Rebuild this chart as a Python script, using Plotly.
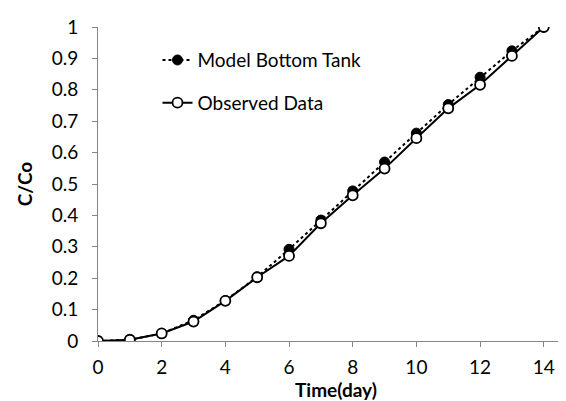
import plotly.graph_objects as go

days = [0, 1, 2, 3, 4, 5, 6, 7, 8, 9, 10, 11, 12, 13, 14]
model_bottom = [0, 0.004, 0.024, 0.066, 0.129, 0.204, 0.292, 0.385, 0.478, 0.570, 0.662, 0.753, 0.840, 0.924, 1.0]
observed = [0, 0.004, 0.024, 0.062, 0.128, 0.203, 0.271, 0.375, 0.464, 0.549, 0.646, 0.741, 0.816, 0.908, 1.0]

x_ticks = [0, 2, 4, 6, 8, 10, 12, 14]
y_ticks = [0, 0.1, 0.2, 0.3, 0.4, 0.5, 0.6, 0.7, 0.8, 0.9, 1]
y_labels = ["0", "0.1", "0.2", "0.3", "0.4", "0.5", "0.6", "0.7", "0.8", "0.9", "1"]

font = "Lato"
axis_grey = "#868686"

fig = go.Figure()

fig.add_trace(go.Scatter(
    x=days, y=model_bottom, name="Model Bottom Tank", mode="lines+markers",
    legendgroup="model",
    line=dict(color="black", width=2, dash="dot"),
    marker=dict(symbol="circle", size=10, color="black", line=dict(color="black", width=1)),
))

fig.add_trace(go.Scatter(
    x=days, y=observed, name="Observed Data", mode="lines+markers",
    legendgroup="obs",
    line=dict(color="black", width=2),
    marker=dict(symbol="circle", size=10, color="white", line=dict(color="black", width=1.8)),
))

fig.update_layout(
    width=566, height=401,
    margin=dict(l=90, r=0, t=19, b=68),
    plot_bgcolor="white", paper_bgcolor="white",
    font=dict(family=font, size=19, color="black"),
    legend=dict(x=0.125, y=0.955, xanchor="left", yanchor="top",
                font=dict(family=font, size=19), tracegroupgap=15,
                bgcolor="rgba(0,0,0,0)"),
    showlegend=True,
)

fig.update_xaxes(
    range=[0, 14.95], tickvals=x_ticks, showgrid=False, zeroline=False,
    showline=True, linecolor=axis_grey, linewidth=1,
    ticks="outside", ticklen=5, tickcolor=axis_grey, ticklabelstandoff=4,
    title=dict(text="<b>Time(day)</b>", font=dict(family=font, size=19), standoff=3),
)
fig.update_yaxes(
    range=[0, 1], tickvals=y_ticks, ticktext=y_labels, showgrid=False, zeroline=False,
    showline=True, linecolor=axis_grey, linewidth=1,
    ticks="outside", ticklen=5, tickcolor=axis_grey, ticklabelstandoff=10,
    title=dict(text="<b>C/Co</b>", font=dict(family=font, size=19), standoff=14),
)

fig.write_html("out.html")
